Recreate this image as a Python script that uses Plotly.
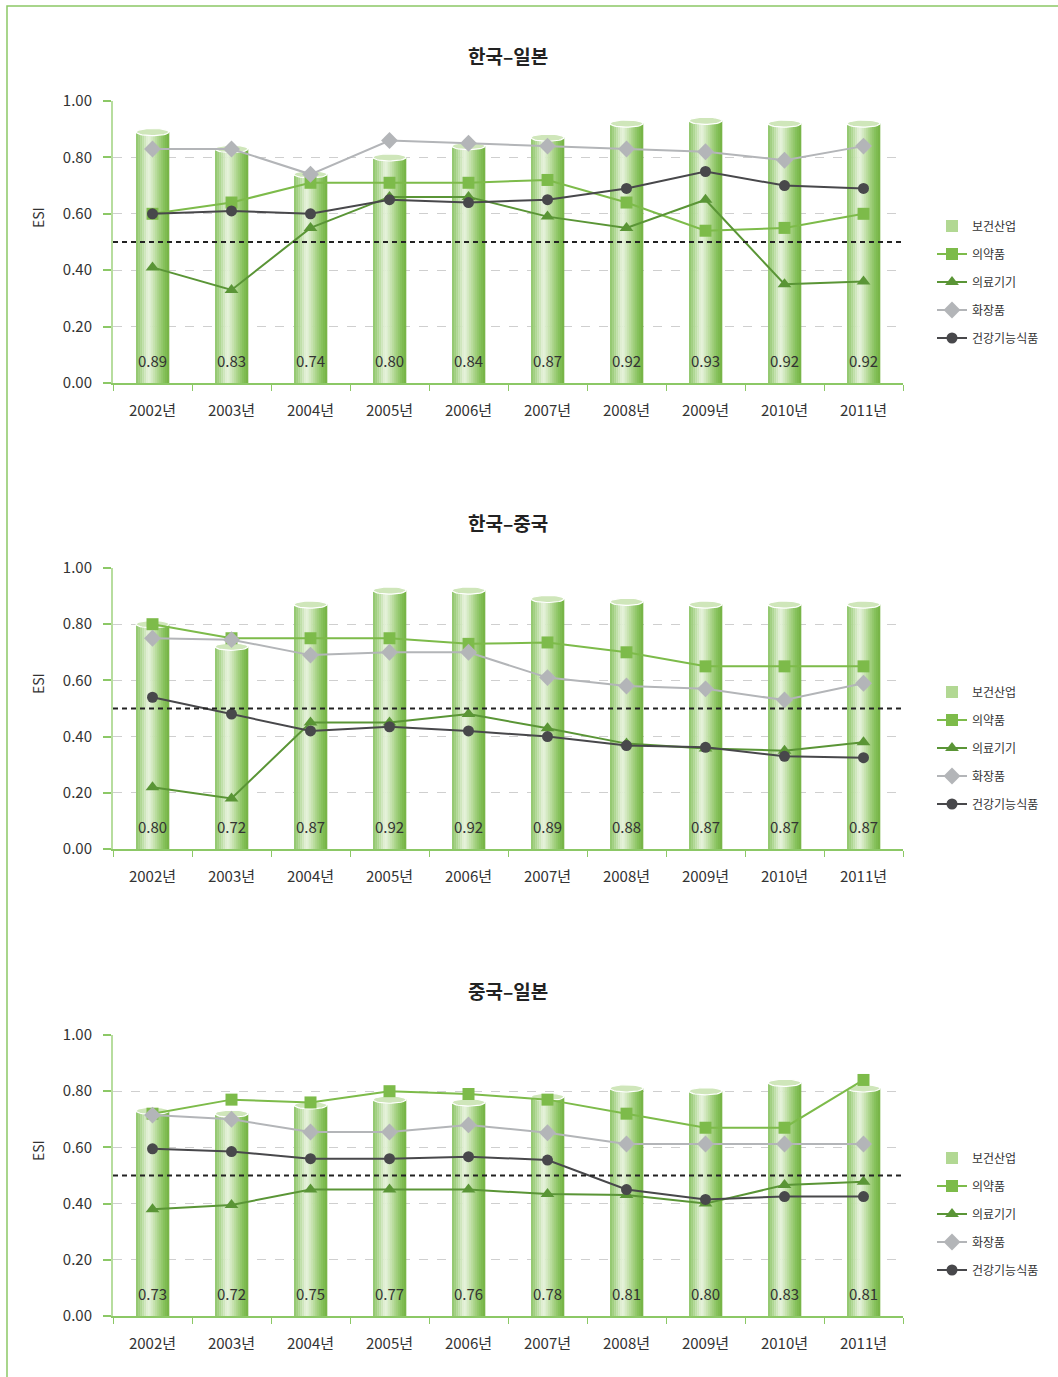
import numpy as np
import plotly.graph_objects as go

# ---------------- data ----------------
years = ["2002년", "2003년", "2004년", "2005년", "2006년",
         "2007년", "2008년", "2009년", "2010년", "2011년"]
titles = ["한국–일본", "한국–중국", "중국–일본"]
bar_name = "보건산업"
line_names = ["의약품", "의료기기", "화장품", "건강기능식품"]
y_ticks = [0.0, 0.2, 0.4, 0.6, 0.8, 1.0]
threshold = 0.5

# 한국-일본
kj_health = [0.89, 0.83, 0.74, 0.80, 0.84, 0.87, 0.92, 0.93, 0.92, 0.92]
kj_pharma = [0.60, 0.64, 0.71, 0.71, 0.71, 0.72, 0.64, 0.54, 0.55, 0.60]
kj_device = [0.41, 0.33, 0.55, 0.66, 0.66, 0.59, 0.55, 0.65, 0.35, 0.36]
kj_cosmetic = [0.83, 0.83, 0.74, 0.86, 0.85, 0.84, 0.83, 0.82, 0.79, 0.84]
kj_food = [0.60, 0.61, 0.60, 0.65, 0.64, 0.65, 0.69, 0.75, 0.70, 0.69]

# 한국-중국
kc_health = [0.80, 0.72, 0.87, 0.92, 0.92, 0.89, 0.88, 0.87, 0.87, 0.87]
kc_pharma = [0.80, 0.75, 0.75, 0.75, 0.73, 0.735, 0.70, 0.65, 0.65, 0.65]
kc_device = [0.22, 0.18, 0.45, 0.45, 0.48, 0.43, 0.375, 0.358, 0.35, 0.38]
kc_cosmetic = [0.75, 0.745, 0.69, 0.70, 0.70, 0.61, 0.58, 0.57, 0.53, 0.59]
kc_food = [0.54, 0.48, 0.42, 0.435, 0.42, 0.40, 0.368, 0.362, 0.33, 0.325]

# 중국-일본
cj_health = [0.73, 0.72, 0.75, 0.77, 0.76, 0.78, 0.81, 0.80, 0.83, 0.81]
cj_pharma = [0.72, 0.77, 0.76, 0.80, 0.79, 0.77, 0.72, 0.67, 0.67, 0.84]
cj_device = [0.38, 0.395, 0.45, 0.45, 0.45, 0.434, 0.431, 0.40, 0.466, 0.478]
cj_cosmetic = [0.715, 0.70, 0.655, 0.655, 0.68, 0.652, 0.612, 0.612, 0.612, 0.612]
cj_food = [0.595, 0.585, 0.56, 0.56, 0.567, 0.555, 0.45, 0.415, 0.425, 0.425]

panels = [
    (kj_health, [kj_pharma, kj_device, kj_cosmetic, kj_food]),
    (kc_health, [kc_pharma, kc_device, kc_cosmetic, kc_food]),
    (cj_health, [cj_pharma, cj_device, cj_cosmetic, cj_food]),
]

# ---------------- styling ----------------
W, H = 1058, 1377
FONT = "Noto Sans CJK KR"
TXT = "#333333"
GREEN_AXIS = "#8cc866"
GREEN_YAXIS = "#b7dd9e"
line_colors = ["#7dbb4a", "#5a9536", "#b3b5b8", "#48484b"]
line_symbols = ["square", "triangle-up", "diamond", "circle"]
line_sizes = [12, 12, 13, 11]

# pixel layout of each panel: (top px, bottom px)
panel_px = [(101, 383), (568, 849), (1035, 1316)]
title_px = [56, 522, 990]
esi_px = [218, 684, 1151]
legend_px = [282, 748, 1214]
x_px = (113, 903)

cat_px = (x_px[1] - x_px[0]) / len(years)
bar_half = 16.5 / cat_px          # half bar width in category units
cap_half_px = 3.6

def hex2rgb(h):
    h = h.lstrip("#")
    return np.array([int(h[i:i + 2], 16) for i in (0, 2, 4)], float)

grad_stops = [(0.0, "#8fc66a"), (0.12, "#a6d287"), (0.38, "#e8f3de"),
              (0.62, "#b5da97"), (0.85, "#86c15b"), (1.0, "#74b243")]

def grad_color(t):
    for (t0, c0), (t1, c1) in zip(grad_stops[:-1], grad_stops[1:]):
        if t0 <= t <= t1:
            f = (t - t0) / (t1 - t0)
            c = hex2rgb(c0) * (1 - f) + hex2rgb(c1) * f
            return "rgb(%d,%d,%d)" % tuple(np.round(c))
    return grad_stops[-1][1]

n_strips = 16
strip_w = 2 * bar_half / n_strips
xidx = np.arange(len(years))

fig = go.Figure()
layout = dict(
    width=W, height=H,
    margin=dict(l=0, r=0, t=0, b=0),
    paper_bgcolor="white", plot_bgcolor="white",
    barmode="overlay",
    font=dict(family=FONT, size=14, color=TXT),
    showlegend=True,
)
annotations = []
shapes = []

for p, (health, series) in enumerate(panels):
    sfx = "" if p == 0 else str(p + 1)
    xa, ya = "x" + sfx, "y" + sfx
    lg = "legend" + sfx
    top, bot = panel_px[p]
    ydom = [1 - bot / H, 1 - top / H]
    xdom = [x_px[0] / W, x_px[1] / W]
    # bar strips (cylinder gradient)
    for k in range(n_strips):
        t = (k + 0.5) / n_strips
        fig.add_trace(go.Bar(
            x=xidx, y=health, width=strip_w * 1.15,
            offset=-bar_half + k * strip_w,
            marker=dict(color=grad_color(t), line=dict(width=0)),
            xaxis=xa, yaxis=ya, name=bar_name,
            legend=lg, legendgroup="bar" + sfx,
            showlegend=False, hoverinfo="skip",
        ))
    # legend entry for bars
    fig.add_trace(go.Bar(
        x=[None], y=[None], name=bar_name,
        marker=dict(color="#b2d893", line=dict(width=0)),
        xaxis=xa, yaxis=ya, legend=lg, legendgroup="bar" + sfx,
        showlegend=True,
    ))
    # cylinder caps
    axis_h = bot - top
    hh = cap_half_px / axis_h
    th = np.linspace(0, 2 * np.pi, 40)
    cx, cy = [], []
    for i, v in enumerate(health):
        cx += list(i + bar_half * np.cos(th)) + [None]
        cy += list(v + hh * np.sin(th)) + [None]
    fig.add_trace(go.Scatter(
        x=cx, y=cy, mode="lines", fill="toself",
        fillcolor="#cfe6ba", line=dict(color="white", width=1.2),
        xaxis=xa, yaxis=ya, showlegend=False, hoverinfo="skip",
        legend=lg,
    ))
    # lines
    for j, vals in enumerate(series):
        fig.add_trace(go.Scatter(
            x=xidx, y=vals, mode="lines+markers", name=line_names[j],
            line=dict(color=line_colors[j], width=2),
            marker=dict(symbol=line_symbols[j], size=line_sizes[j],
                        color=line_colors[j]),
            xaxis=xa, yaxis=ya, legend=lg, legendgroup=line_names[j] + sfx,
        ))
    # value labels inside bars
    for i, v in enumerate(health):
        annotations.append(dict(
            x=i, y=0, xref=xa, yref=ya, text=f"{v:.2f}", showarrow=False,
            yanchor="bottom", yshift=10,
            font=dict(family=FONT, size=15, color=TXT),
        ))
    # titles and y title
    annotations.append(dict(
        x=(x_px[0] + x_px[1]) / 2 / W, y=1 - title_px[p] / H,
        xref="paper", yref="paper", text="<b>%s</b>" % titles[p],
        showarrow=False, xanchor="center", yanchor="middle",
        font=dict(family=FONT, size=19, color="#222222"),
    ))
    annotations.append(dict(
        x=38 / W, y=1 - esi_px[p] / H, xref="paper", yref="paper",
        text="ESI", textangle=-90, showarrow=False,
        xanchor="center", yanchor="middle",
        font=dict(family=FONT, size=14, color=TXT),
    ))
    # threshold line
    shapes.append(dict(
        type="line", xref=xa + " domain", yref=ya, x0=0, x1=1,
        y0=threshold, y1=threshold, layer="above",
        line=dict(color="#222222", width=2, dash="5px,4px"),
    ))
    layout["xaxis" + sfx] = dict(
        domain=xdom, anchor=ya, range=[-0.5, len(years) - 0.5],
        tickmode="array", tickvals=list(xidx), ticktext=years,
        ticks="", showgrid=False, zeroline=False,
        showline=True, linecolor=GREEN_AXIS, linewidth=1.5,
        ticklabelstandoff=13, automargin=False,
        tickfont=dict(family=FONT, size=15, color=TXT),
        minor=dict(tickmode="linear", tick0=-0.5, dtick=1, ticks="outside",
                   ticklen=6, tickcolor=GREEN_AXIS, tickwidth=1, showgrid=False),
        fixedrange=True,
    )
    layout["yaxis" + sfx] = dict(
        domain=ydom, anchor=xa, range=[0, 1.0],
        tickmode="array", tickvals=y_ticks,
        ticktext=[f"{t:.2f}" for t in y_ticks],
        ticks="outside", ticklen=8, tickcolor=GREEN_AXIS, tickwidth=1.5,
        showline=True, linecolor=GREEN_YAXIS, linewidth=2,
        showgrid=True, gridcolor="#cfcfcf", gridwidth=1, griddash="dash",
        zeroline=False, automargin=False, ticklabelstandoff=8,
        tickfont=dict(family=FONT, size=15, color=TXT),
        fixedrange=True,
    )
    layout[lg] = dict(
        x=932 / W, y=1 - legend_px[p] / H, xanchor="left", yanchor="middle",
        traceorder="grouped", tracegroupgap=9, itemwidth=30,
        font=dict(family=FONT, size=12, color=TXT),
        bgcolor="rgba(0,0,0,0)", borderwidth=0,
    )

# page border
shapes.append(dict(
    type="path", xref="paper", yref="paper",
    path="M %f,%f L %f,%f L %f,%f" % (7 / W, -0.01, 7 / W, 1 - 6 / H, 1.01, 1 - 6 / H),
    line=dict(color=GREEN_AXIS, width=1.5),
))

layout["annotations"] = annotations
layout["shapes"] = shapes
fig.update_layout(**layout)
fig.write_html(
    "out.html",
    config={"displayModeBar": False},
    post_script="document.body.style.margin='0';document.body.style.overflow='hidden';",
)
